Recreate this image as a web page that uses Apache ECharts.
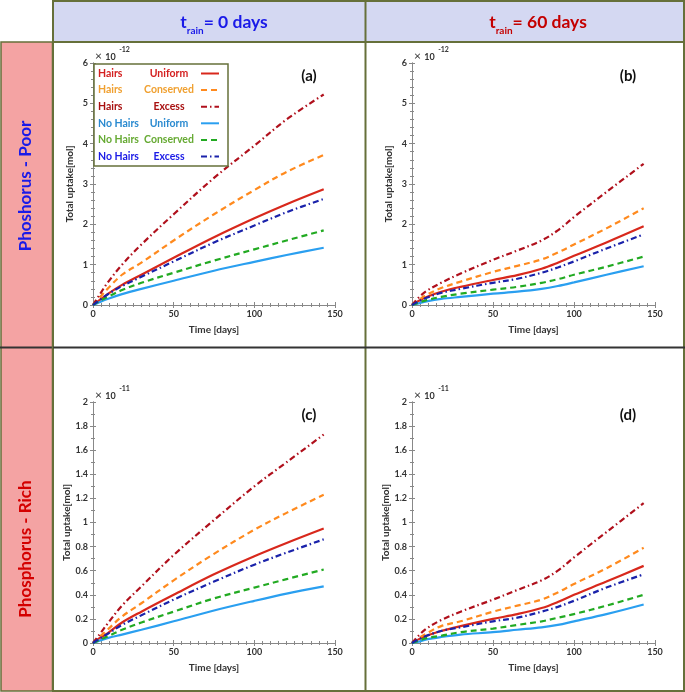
<!DOCTYPE html>
<html><head><meta charset="utf-8">
<script src="https://cdn.jsdelivr.net/npm/echarts/dist/echarts.min.js"></script>
<style>html,body{margin:0;padding:0;background:#fff}#c{width:685px;height:692px}</style>
</head><body><div id="c"></div><script>
// ---- data (values shown in axis units: (a),(b) x1e-12 mol ; (c),(d) x1e-11 mol) ----
const seriesNames = ['Hairs Uniform','Hairs Conserved','Hairs Excess','No Hairs Uniform','No Hairs Conserved','No Hairs Excess'];
const legendCol1 = ['Hairs','Hairs','Hairs','No Hairs','No Hairs','No Hairs'];
const legendCol2 = ['Uniform','Conserved','Excess','Uniform','Conserved','Excess'];
const panelLabels = ['(a)','(b)','(c)','(d)'];
const xTicks = [0, 50, 100, 150];

const daysA = [0, 4, 9, 18, 30, 50, 75, 100, 120, 143];
const a_HU = [0, 0.12, 0.27, 0.50, 0.75, 1.17, 1.68, 2.15, 2.50, 2.87];
const a_HC = [0, 0.18, 0.40, 0.75, 1.05, 1.60, 2.25, 2.85, 3.30, 3.72];
const a_HE = [0, 0.25, 0.55, 1.00, 1.50, 2.25, 3.15, 3.95, 4.60, 5.22];
const a_NU = [0, 0.07, 0.15, 0.27, 0.40, 0.60, 0.85, 1.07, 1.24, 1.42];
const a_NC = [0, 0.10, 0.20, 0.37, 0.55, 0.80, 1.10, 1.38, 1.60, 1.85];
const a_NE = [0, 0.12, 0.26, 0.47, 0.70, 1.08, 1.55, 1.97, 2.30, 2.63];

const daysB = [0, 4, 9, 18, 30, 50, 65, 80, 90, 100, 120, 143];
const b_HU = [0, 0.10, 0.20, 0.33, 0.45, 0.62, 0.74, 0.90, 1.05, 1.22, 1.55, 1.95];
const b_HC = [0, 0.12, 0.25, 0.42, 0.58, 0.82, 0.97, 1.13, 1.30, 1.50, 1.90, 2.40];
const b_HE = [0, 0.18, 0.35, 0.55, 0.78, 1.12, 1.35, 1.60, 1.85, 2.18, 2.80, 3.50];
const b_NU = [0, 0.04, 0.09, 0.15, 0.20, 0.28, 0.33, 0.40, 0.47, 0.56, 0.75, 0.96];
const b_NC = [0, 0.06, 0.12, 0.20, 0.28, 0.38, 0.45, 0.55, 0.64, 0.75, 0.95, 1.20];
const b_NE = [0, 0.09, 0.18, 0.30, 0.40, 0.55, 0.65, 0.80, 0.93, 1.08, 1.40, 1.75];

const daysC = [0, 4, 9, 18, 30, 50, 75, 100, 120, 143];
const c_HU = [0, 0.04, 0.08, 0.17, 0.26, 0.40, 0.57, 0.72, 0.83, 0.95];
const c_HC = [0, 0.05, 0.11, 0.22, 0.33, 0.52, 0.74, 0.94, 1.08, 1.23];
const c_HE = [0, 0.07, 0.16, 0.31, 0.47, 0.73, 1.02, 1.30, 1.50, 1.73];
const c_NU = [0, 0.02, 0.04, 0.07, 0.11, 0.18, 0.27, 0.35, 0.41, 0.47];
const c_NC = [0, 0.025, 0.055, 0.11, 0.17, 0.26, 0.37, 0.46, 0.53, 0.61];
const c_NE = [0, 0.035, 0.075, 0.15, 0.23, 0.36, 0.51, 0.65, 0.75, 0.86];

const daysD = [0, 4, 9, 18, 30, 50, 65, 80, 90, 100, 120, 143];
const d_HU = [0, 0.03, 0.06, 0.10, 0.14, 0.20, 0.24, 0.29, 0.34, 0.40, 0.51, 0.64];
const d_HC = [0, 0.04, 0.08, 0.14, 0.18, 0.26, 0.31, 0.36, 0.42, 0.49, 0.62, 0.79];
const d_HE = [0, 0.06, 0.12, 0.19, 0.26, 0.36, 0.44, 0.52, 0.60, 0.71, 0.92, 1.16];
const d_NU = [0, 0.01, 0.03, 0.05, 0.07, 0.09, 0.11, 0.13, 0.15, 0.18, 0.24, 0.32];
const d_NC = [0, 0.02, 0.04, 0.06, 0.09, 0.12, 0.15, 0.18, 0.21, 0.24, 0.31, 0.40];
const d_NE = [0, 0.03, 0.06, 0.10, 0.13, 0.18, 0.21, 0.26, 0.30, 0.35, 0.46, 0.57];

const panels = [
  {days: daysA, vals: [a_HU, a_HC, a_HE, a_NU, a_NC, a_NE], yMax: 6, yInt: 1, exp: '-12'},
  {days: daysB, vals: [b_HU, b_HC, b_HE, b_NU, b_NC, b_NE], yMax: 6, yInt: 1, exp: '-12'},
  {days: daysC, vals: [c_HU, c_HC, c_HE, c_NU, c_NC, c_NE], yMax: 2, yInt: 0.2, exp: '-11'},
  {days: daysD, vals: [d_HU, d_HC, d_HE, d_NU, d_NC, d_NE], yMax: 2, yInt: 0.2, exp: '-11'}
];

// ---- styles ----
const FONT = 'Lato';
const lineColors = ['#d8281c', '#ff8a1e', '#b0101c', '#2a9ff0', '#22aa22', '#1a22aa'];
const lineTypes = ['solid', [6, 4], [6, 3, 1.5, 3], 'solid', [6, 4], [6, 3, 1.5, 3]];
const legendTextColors = ['#d42020', '#f0a030', '#a81010', '#2a8ad0', '#66aa33', '#1a1ae6'];
const grids = [
  {left: 93, top: 63, width: 242, height: 242},
  {left: 412, top: 63, width: 243, height: 242},
  {left: 93, top: 402, width: 242, height: 241},
  {left: 412, top: 402, width: 243, height: 241}
];
const OLIVE = '#66703a';
const axisGray = '#888';

const xAxes = [], yAxes = [], series = [];
panels.forEach((p, i) => {
  const tickCommon = {inside: true, length: 3, lineStyle: {color: axisGray}};
  xAxes.push({
    gridIndex: i, type: 'value', min: xTicks[0], max: xTicks[xTicks.length - 1], interval: 50,
    axisLine: {lineStyle: {color: axisGray, width: 1}},
    axisTick: tickCommon, minorTick: {show: true, splitNumber: 10, length: 2, lineStyle: {color: axisGray}},
    splitLine: {show: false},
    axisLabel: {fontFamily: FONT, fontSize: 9, fontWeight: 'bold', color: '#333', margin: 5},
    name: 'Time [days]', nameLocation: 'middle', nameGap: 20,
    nameTextStyle: {fontFamily: FONT, fontSize: 10, fontWeight: 'bold', color: '#333'}
  });
  xAxes.push({
    gridIndex: i, type: 'value', position: 'top', min: 0, max: 150, interval: 50,
    axisLine: {lineStyle: {color: axisGray}}, axisTick: tickCommon,
    minorTick: {show: true, splitNumber: 10, length: 2, lineStyle: {color: axisGray}},
    splitLine: {show: false}, axisLabel: {show: false}
  });
  yAxes.push({
    gridIndex: i, type: 'value', min: 0, max: p.yMax, interval: p.yInt,
    axisLine: {lineStyle: {color: axisGray}}, axisTick: tickCommon,
    minorTick: {show: true, splitNumber: p.yMax === 6 ? 5 : 2, length: 2, lineStyle: {color: axisGray}},
    splitLine: {show: false},
    axisLabel: {fontFamily: FONT, fontSize: 9, fontWeight: 'bold', color: '#333', margin: 5},
    name: 'Total uptake[mol]', nameLocation: 'middle', nameGap: 18,
    nameTextStyle: {fontFamily: FONT, fontSize: 10, fontWeight: 'bold', color: '#333', padding: [0, 0, 0, 0]}
  });
  yAxes.push({
    gridIndex: i, type: 'value', position: 'right', min: 0, max: p.yMax, interval: p.yInt,
    axisLine: {lineStyle: {color: axisGray}}, axisTick: tickCommon,
    minorTick: {show: true, splitNumber: p.yMax === 6 ? 5 : 2, length: 2, lineStyle: {color: axisGray}},
    splitLine: {show: false}, axisLabel: {show: false}
  });
  p.vals.forEach((v, k) => {
    series.push({
      name: seriesNames[k], type: 'line', xAxisIndex: 2 * i, yAxisIndex: 2 * i,
      data: p.days.map((d, j) => [d, v[j]]),
      smooth: 0.35, symbol: 'none', animation: false,
      lineStyle: {color: lineColors[k], width: 2.2, type: lineTypes[k]},
      itemStyle: {color: lineColors[k]},
      z: 3
    });
  });
});

const rich = {};
legendTextColors.forEach((c, i) => {
  rich['l' + i] = {fontFamily: FONT, fontSize: 10.5, fontWeight: 'bold', color: c, width: 44, align: 'left', lineHeight: 12};
  rich['m' + i] = {fontFamily: FONT, fontSize: 10.5, fontWeight: 'bold', color: c, width: 54, align: 'center', lineHeight: 12};
});

const graphics = [
  {type: 'rect', shape: {x: 53, y: 1, width: 631, height: 41}, style: {fill: '#d4d8f2', stroke: OLIVE, lineWidth: 2}, z: 0},
  {type: 'rect', shape: {x: 1, y: 42, width: 52, height: 649}, style: {fill: '#f4a3a3', stroke: OLIVE, lineWidth: 1.5}, z: 0},
  {type: 'rect', shape: {x: 53, y: 42, width: 631, height: 649}, style: {fill: 'none', stroke: OLIVE, lineWidth: 2}, z: 0},
  {type: 'line', shape: {x1: 365.5, y1: 1, x2: 365.5, y2: 691}, style: {stroke: OLIVE, lineWidth: 2}, z: 0},
  {type: 'line', shape: {x1: 0, y1: 347.5, x2: 685, y2: 347.5}, style: {stroke: '#333', lineWidth: 2}, z: 0},
  {type: 'line', shape: {x1: 52.5, y1: 42, x2: 52.5, y2: 691}, style: {stroke: OLIVE, lineWidth: 1.5}, z: 1},
  {type: 'text', x: 224, y: 22, style: {
    text: '{t|t}{s|rain}{t|= 0 days}', align: 'center', verticalAlign: 'middle',
    rich: {t: {fontFamily: FONT, fontSize: 17.5, fontWeight: 'bold', fill: '#1a1ae8', lineHeight: 24, verticalAlign: 'middle'},
           s: {fontFamily: FONT, fontSize: 10, fontWeight: 'bold', fill: '#1a1ae8', verticalAlign: 'bottom', lineHeight: 24, padding: [0, 0, -2, 0]}}}, z: 5},
  {type: 'text', x: 538, y: 22, style: {
    text: '{t|t}{s|rain}{t|= 60 days}', align: 'center', verticalAlign: 'middle',
    rich: {t: {fontFamily: FONT, fontSize: 17.5, fontWeight: 'bold', fill: '#c40000', lineHeight: 24, verticalAlign: 'middle'},
           s: {fontFamily: FONT, fontSize: 10, fontWeight: 'bold', fill: '#c40000', verticalAlign: 'bottom', lineHeight: 24, padding: [0, 0, -2, 0]}}}, z: 5},
  {type: 'text', x: 26, y: 186, rotation: Math.PI / 2, style: {
    text: 'Phoshorus - Poor', align: 'center', verticalAlign: 'middle',
    font: 'bold 17px ' + FONT, fill: '#1a1ae8'}, z: 5},
  {type: 'text', x: 26, y: 549, rotation: Math.PI / 2, style: {
    text: 'Phosphorus - Rich', align: 'center', verticalAlign: 'middle',
    font: 'bold 17px ' + FONT, fill: '#d40000'}, z: 5}
];
grids.forEach((g, i) => {
  graphics.push({type: 'text', x: g.left + 216, y: g.top + 13, style: {
    text: panelLabels[i], align: 'center', verticalAlign: 'middle', font: 'bold 15px ' + FONT, fill: '#111'}, z: 5});
  graphics.push({type: 'text', x: g.left + 2, y: g.top - 9, style: {
    text: '{x|×} {b|10}{e|  ' + panels[i].exp + '}', align: 'left', verticalAlign: 'middle',
    rich: {x: {fontFamily: FONT, fontSize: 12, fill: '#333', lineHeight: 16, verticalAlign: 'bottom'},
           b: {fontFamily: FONT, fontSize: 9, fontWeight: 'bold', fill: '#333', lineHeight: 16, verticalAlign: 'bottom'},
           e: {fontFamily: FONT, fontSize: 7, fontWeight: 'bold', fill: '#333', lineHeight: 16, verticalAlign: 'top'}}}, z: 5});
});

const chart = echarts.init(document.getElementById('c'), null, {renderer: 'canvas'});
chart.setOption({
  backgroundColor: '#fff',
  animation: false,
  grid: grids.map(g => Object.assign({show: false, containLabel: false}, g)),
  xAxis: xAxes,
  yAxis: yAxes,
  legend: {
    data: seriesNames.map((n, i) => ({name: n})),
    left: 94, top: 64, orient: 'vertical', align: 'right',
    backgroundColor: '#fff', borderColor: OLIVE, borderWidth: 1.5, borderRadius: 0,
    padding: [4, 8, 4, 4], itemWidth: 18, itemHeight: 10, itemGap: 5.6,
    itemStyle: {opacity: 0},
    selectedMode: false,
    formatter: name => { const i = seriesNames.indexOf(name); return '{l' + i + '|' + legendCol1[i] + '}{m' + i + '|' + legendCol2[i] + '}'; },
    textStyle: {rich: rich}
  },
  graphic: {elements: graphics},
  series: series
});
</script></body></html>
